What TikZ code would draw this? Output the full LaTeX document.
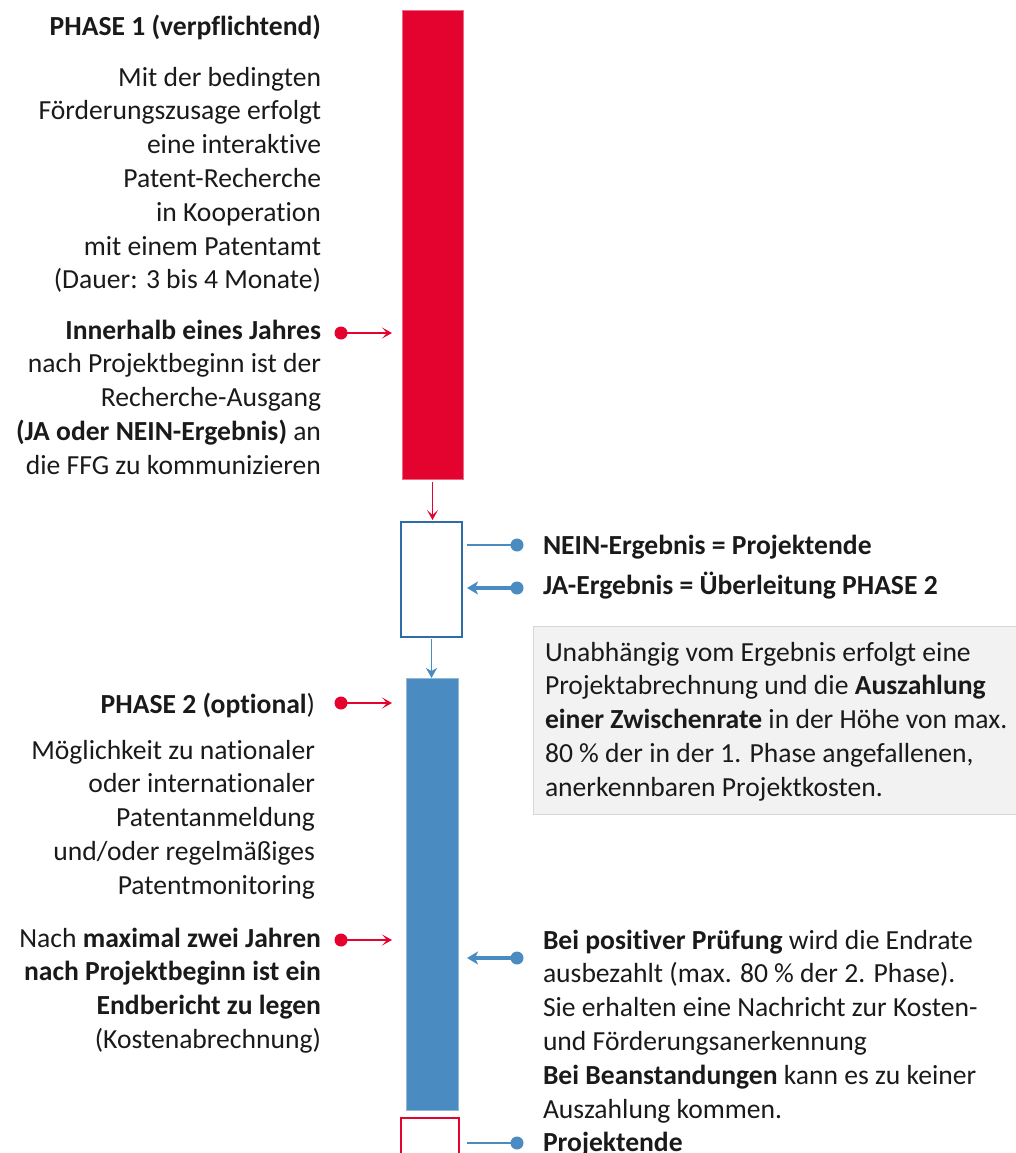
\documentclass[tikz,border=0pt]{standalone}
\usepackage{fontspec}
\setmainfont{Carlito}[Ligatures={NoCommon}]
\usetikzlibrary{arrows.meta}
\definecolor{ffgred}{HTML}{E4032E}
\definecolor{ffgblue}{HTML}{4A8BC2}
\definecolor{boxblue}{HTML}{2E6DA8}
\definecolor{txt}{HTML}{1A1A1A}
\definecolor{grayfill}{HTML}{F2F2F2}
\definecolor{grayline}{HTML}{D6D6D6}
\begin{document}
\begin{tikzpicture}[x=1pt,y=-1pt,
  every node/.style={inner sep=0pt, outer sep=0pt, text=txt},
  txtfont/.style={font=\fontsize{27.6}{33.8}\selectfont},
  lefttext/.style={txtfont, align=right, anchor=base east},
  righttext/.style={txtfont, align=left, anchor=base west},
  redbar/.style={rectangle, fill=ffgred, draw=ffgred!60!white, line width=0.6pt, minimum width=61pt, minimum height=469pt},
  bluebar/.style={rectangle, fill=ffgblue, draw=ffgblue!60!white, line width=0.6pt, minimum width=52pt, minimum height=432pt},
  outlinebox/.style={rectangle, fill=white, line width=2.4pt},
  reddot/.style={circle, fill=ffgred, minimum size=13pt},
  bluedot/.style={circle, fill=ffgblue, minimum size=13pt},
  redarrow/.style={draw=ffgred, line width=1.6pt, -{Stealth[length=10pt,width=11pt,inset=5pt]}},
  bluethin/.style={draw=ffgblue, line width=2pt},
  bluearrow/.style={draw=ffgblue, line width=3.6pt, -{Stealth[length=11pt,width=13pt,inset=3pt]}},
  graybox/.style={rectangle, fill=grayfill, draw=grayline, line width=1pt}
]
\useasboundingbox (0,0) rectangle (1016,1153);

% bars and boxes
\node[redbar] (p1) at (432.5,244.5) {};
\node[outlinebox, draw=boxblue, minimum width=61pt, minimum height=115pt] (b1) at (431.5,579.5) {};
\node[bluebar] (p2) at (432,894) {};
\node[outlinebox, draw=ffgred, minimum width=58pt, minimum height=52pt] (b2) at (430,1144) {};

% vertical connectors
\draw[redarrow, line width=1.4pt, shorten <=3pt, shorten >=2pt] (p1.south) -- (p1.south |- b1.north);
\draw[draw=ffgblue, line width=1.4pt, -{Stealth[length=10pt,width=11pt,inset=3pt]}, shorten <=2pt, shorten >=0pt] (b1.south) -- (b1.south |- p2.north);

% left texts (base anchor = last line)
\node[lefttext, font=\bfseries\fontsize{27.6}{33.8}\selectfont] (t1) at (321,36) {PHASE 1 (verpflichtend)};
\node[lefttext] (t2) at (321,288.8) {Mit der bedingten\\Förderungszusage erfolgt\\eine interaktive\\Patent-Recherche\\in Kooperation\\mit einem Patentamt\\(Dauer: 3 bis 4 Monate)};
\node[lefttext] (t3) at (321,474.2) {\textbf{Innerhalb eines Jahres}\\nach Projektbeginn ist der\\Recherche-Ausgang\\\textbf{(JA oder NEIN-Ergebnis)} an\\die FFG zu kommunizieren};
\node[lefttext] (t4) at (315,713) {\textbf{PHASE 2 (optional})};
\node[lefttext] (t5) at (315,894.2) {Möglichkeit zu nationaler\\oder internationaler\\Patentanmeldung\\und/oder regelmäßiges\\Patentmonitoring};
\node[lefttext] (t6) at (321,1048.4) {Nach \textbf{maximal zwei Jahren}\\\textbf{nach Projektbeginn ist ein}\\\textbf{Endbericht zu legen}\\(Kostenabrechnung)};

% left dots and arrows
\node[reddot] (d1) at (341,333) {};
\node[reddot] (d2) at (341,703) {};
\node[reddot] (d3) at (341,940) {};
\draw[redarrow, shorten >=10pt] (d1.center) -- (d1.center -| p1.west);
\draw[redarrow, shorten >=14pt] (d2.center) -- (d2.center -| p2.west);
\draw[redarrow, shorten >=14pt] (d3.center) -- (d3.center -| p2.west);

% right dots and connectors
\node[bluedot] (e1) at (517,545) {};
\node[bluedot] (e2) at (517,588) {};
\node[bluedot] (e3) at (517,958) {};
\node[bluedot] (e4) at (517,1143) {};
\draw[bluethin, shorten <=5pt] (e1.center -| b1.east) -- (e1.center);
\draw[bluearrow, shorten >=5pt] (e2.center) -- (e2.center -| b1.east);
\draw[bluearrow, shorten >=9pt] (e3.center) -- (e3.center -| p2.east);
\draw[bluethin, shorten <=8pt] (e4.center -| b2.east) -- (e4.center);

% right texts
\node[righttext, font=\bfseries\fontsize{27.6}{33.8}\selectfont] (r1) at (543,554) {NEIN-Ergebnis = Projektende};
\node[righttext, font=\bfseries\fontsize{27.6}{33.8}\selectfont] (r2) at (543,594) {JA-Ergebnis = Überleitung PHASE 2};
\node[graybox, minimum width=483pt, minimum height=188pt, anchor=north west] (g) at (533,626) {};
\node[righttext] (gt) at (545,796.2) {Unabhängig vom Ergebnis erfolgt eine\\Projektabrechnung und die \textbf{Auszahlung}\\\textbf{einer Zwischenrate} in der Höhe von max.\\80 \% der in der 1. Phase angefallenen,\\anerkennbaren Projektkosten.};
\node[righttext] (r3) at (543,1118) {\textbf{Bei positiver Prüfung} wird die Endrate\\ausbezahlt (max. 80 \% der 2. Phase).\\Sie erhalten eine Nachricht zur Kosten-\\und Förderungsanerkennung\\\textbf{Bei Beanstandungen} kann es zu keiner\\Auszahlung kommen.};
\node[righttext, font=\bfseries\fontsize{27.6}{33.8}\selectfont] (r4) at (543,1151) {Projektende};
\end{tikzpicture}
\end{document}
